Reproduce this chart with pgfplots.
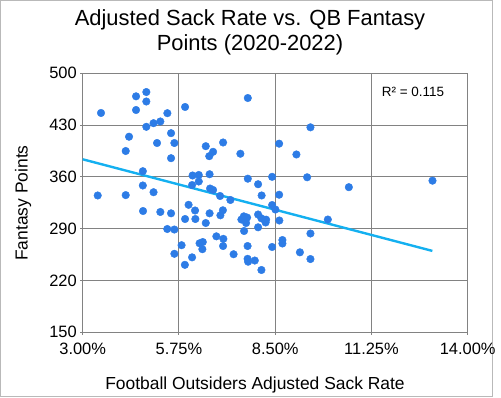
\documentclass[border=0pt]{standalone}
\usepackage{pgfplots}
\pgfplotsset{compat=1.18}
\usepackage{fontspec}
\setmainfont{Liberation Sans}
\definecolor{dotblue}{RGB}{45,124,230}
\definecolor{trend}{RGB}{20,176,240}
\definecolor{gridgray}{RGB}{130,130,130}
\pgfplotstableread{
x y
3.523 446.4
4.524 468.9
4.818 474.7
4.818 461.9
4.524 450.4
5.925 454.5
7.717 466.6
5.419 446.1
5.218 434.9
5.024 432.6
4.818 427.7
5.524 419.1
4.324 414.3
5.124 405.8
5.619 405.8
4.229 395.0
5.524 385.3
6.516 401.5
6.725 393.9
6.616 388.0
7.011 406.5
7.505 391.3
8.612 404.9
9.507 427.0
9.106 390.3
4.718 367.7
3.429 334.9
4.229 335.4
4.718 348.4
5.024 339.3
6.139 361.9
6.316 362.6
6.625 363.6
6.125 349.0
6.316 353.8
6.639 344.3
6.725 342.3
6.925 334.2
7.220 328.8
7.717 357.6
8.011 350.1
8.412 360.1
8.112 334.9
8.612 335.9
8.412 322.0
8.506 315.9
9.412 359.5
10.604 346.1
12.994 354.9
4.724 313.9
5.218 312.6
5.524 310.8
6.025 322.3
6.210 314.6
5.925 303.1
6.219 303.1
6.516 297.7
6.625 310.8
6.934 308.1
7.005 314.9
7.534 302.4
7.603 306.7
7.697 305.1
7.668 297.7
7.611 286.9
8.011 309.2
8.106 304.0
8.240 302.2
8.226 298.4
8.011 291.9
8.618 301.1
10.004 302.4
5.416 289.6
5.619 288.9
5.825 267.7
5.619 256.1
5.919 241.2
6.125 251.3
6.339 270.3
6.431 272.0
6.419 262.3
6.819 279.7
7.019 276.3
7.011 266.6
7.311 255.5
7.711 266.6
7.711 249.3
7.726 245.4
7.917 247.0
8.106 234.2
8.412 265.3
8.706 274.7
8.706 270.0
9.507 283.5
9.206 258.1
9.507 249.0
}\pts
\begin{document}
\begin{tikzpicture}[x=1bp,y=1bp]
\path[use as bounding box] (0,0) rectangle (501,397);
\draw[gray!55, line width=0.8bp] (0.5,0.5) rectangle (492.3,396.5);
\begin{axis}[at={(82.7bp,64.7bp)}, anchor=south west,
  width=385bp, height=259bp, scale only axis,
  xmin=3, xmax=14, ymin=150, ymax=500,
  xtick={3,5.75,8.5,11.25,14},
  xticklabels={3.00\%,5.75\%,8.50\%,11.25\%,14.00\%},
  ytick={150,220,290,360,430,500},
  yticklabels={150,220,290,360,430,500},
  grid=major, major grid style={gridgray, line width=1bp},
  axis line style={gridgray, line width=1bp},
  tick align=outside, major tick length=2.5bp,
  tick style={gridgray, line width=1bp},
  xtick pos=bottom, ytick pos=left,
  ticklabel style={font=\fontsize{16.5}{18}\selectfont},
  xticklabel style={yshift=-5bp},
  clip=false]
\addplot[only marks, draw=dotblue, fill=dotblue, mark=*, mark size=3.8bp, mark options={solid, draw=dotblue, fill=dotblue, line width=0.4bp}] table[x=x,y=y] {\pts};
\addplot[trend, line width=2.4bp] coordinates {(3,383.8) (12.99,260)};
\end{axis}
\node[anchor=base, font=\fontsize{22}{26}\selectfont] at (250,372) {Adjusted Sack Rate vs. QB Fantasy};
\node[anchor=base, font=\fontsize{22}{26}\selectfont] at (250,347) {Points (2020-2022)};
\node[anchor=base, font=\fontsize{17.5}{20}\selectfont] at (255,8) {Football Outsiders Adjusted Sack Rate};
\node[rotate=90, font=\fontsize{17.5}{20}\selectfont] at (23,194) {Fantasy Points};
\node[font=\fontsize{13.5}{16}\selectfont] at (413,305) {R² = 0.115};
\end{tikzpicture}
\end{document}
